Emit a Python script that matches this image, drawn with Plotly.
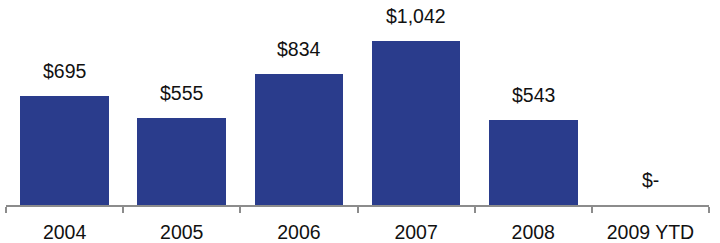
import plotly.graph_objects as go

categories = ["2004", "2005", "2006", "2007", "2008", "2009 YTD"]
values = [695, 555, 834, 1042, 543, 0]
labels = ["$695", "$555", "$834", "$1,042", "$543", "$-"]

FONT = "Liberation Sans, Arial"

fig = go.Figure()
fig.add_trace(go.Bar(
    x=categories, y=values, width=0.756,
    marker=dict(color="#2A3C8C", line=dict(width=0)),
    hoverinfo="skip",
))
for i, (v, t) in enumerate(zip(values, labels)):
    fig.add_annotation(x=i, y=v, text=t, showarrow=False, yanchor="bottom",
                       yshift=12, font=dict(family=FONT, size=19.5, color="#111111"))

fig.update_layout(
    width=720, height=243,
    margin=dict(l=6, r=11, t=0, b=36),
    plot_bgcolor="white", paper_bgcolor="white",
    showlegend=False,
    bargap=0,
    xaxis=dict(
        type="category", range=[-0.5, 5.5],
        showline=True, linecolor="#8C8C8C", linewidth=1.5,
        ticks="outside", tickson="boundaries", ticklen=6, tickwidth=1.5, tickcolor="#8C8C8C",
        tickfont=dict(family=FONT, size=19.5, color="#111111"),
        ticklabelstandoff=9,
        showgrid=False, zeroline=False,
    ),
    yaxis=dict(range=[0, 1302], visible=False, showgrid=False, zeroline=False),
)
fig.write_html("out.html")
